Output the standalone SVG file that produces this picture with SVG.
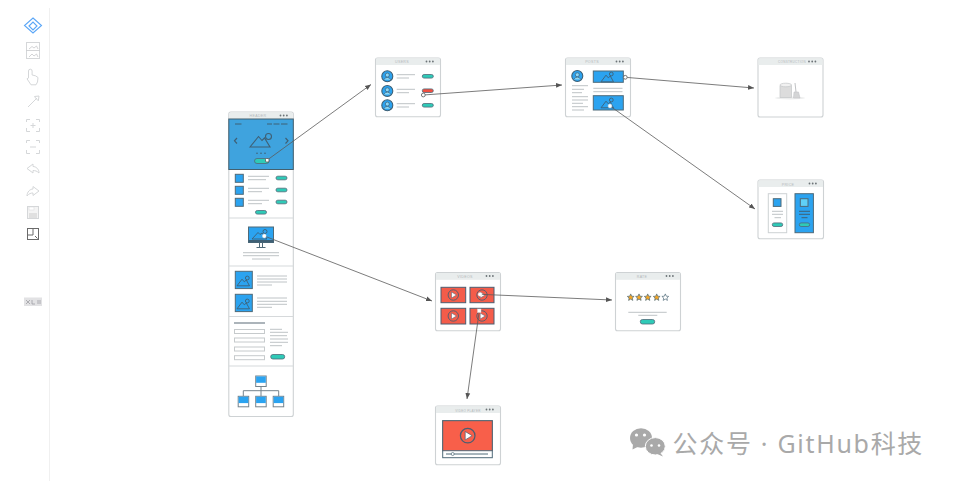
<svg xmlns="http://www.w3.org/2000/svg" xmlns:xlink="http://www.w3.org/1999/xlink" width="954" height="481" viewBox="0 0 954 481">
<style>
.win{fill:#fff;stroke:#ced2d4;stroke-width:1.100}
.bar{fill:#e9eded;stroke:none}
.ttl{font:3.600px "Liberation Sans",Arial,sans-serif;fill:#b4b8bb;text-anchor:middle;letter-spacing:.3px}
.dot{fill:#6c7377}
.div{stroke:#d6d9db;stroke-width:1.100;fill:none}
.ln{stroke:#bec3c6;stroke-width:1;fill:none}
.blue{fill:#2ba3f0;stroke:#4f6a78;stroke-width:1}
.red{fill:#f45c4a;stroke:#4d5d70;stroke-width:1}
.pill{fill:#2fcab7;stroke:#4f6a78;stroke-width:.8}
.rpill{fill:#f04f41;stroke:#4f6a78;stroke-width:.8}
.mt{fill:#2ba3f0;stroke:#3f6075;stroke-width:.9}
.tool{fill:none;stroke:#d5d7d9;stroke-width:1}
.conn{fill:none;stroke:#5a5a5a;stroke-width:.8;marker-end:url(#ah)}
.hd{fill:#fff;stroke:#555;stroke-width:.8}
.wm{font:25px "Noto Sans","Noto Sans CJK SC","Liberation Sans",sans-serif;fill:#a9a9a9;letter-spacing:1.700px}
</style>
<defs>
<marker id="ah" markerWidth="7" markerHeight="6" refX="6" refY="3" orient="auto" markerUnits="userSpaceOnUse"><path d="M0 0.600L6 3L0 5.400z" fill="#555"/></marker>
<g id="dots"><circle cx="0" cy="0" r=".9" class="dot"/><circle cx="3.200" cy="0" r=".9" class="dot"/><circle cx="6.400" cy="0" r=".9" class="dot"/></g>
<g id="pic"><circle cx="3.800" cy="-3" r="1.900" class="mt"/><path d="M-6.500 4.800L-1.500-1.800L.8 .8L2.800-1L6 4.800z" class="mt"/></g>
<g id="ava"><circle r="5.500" fill="#2ba3f0" stroke="#3f6075" stroke-width="1.100"/><circle cy="-1.200" r="2" fill="#8ad7f7" stroke="#3f6075" stroke-width=".7"/><path d="M-3.600 3.400Q0-1.200 3.600 3.400" fill="#8ad7f7" stroke="#3f6075" stroke-width=".7"/></g>
<g id="play"><circle r="5.200" fill="none" stroke="#4d5d70" stroke-width=".9"/><path d="M-1.800-3L3.200 0L-1.800 3z" fill="#fff" stroke="#4d5d70" stroke-width=".5"/></g>
<g id="box"><rect x="-5" y="-5" width="10.500" height="10.500" fill="#fff" stroke="#75838c" stroke-width="1"/><rect x="-4.600" y="-4.600" width="9.700" height="6.400" fill="#2ba3f0"/></g>
<path id="star" d="M0-3.400L1 -1.100L3.400-.9L1.600.7L2.100 3.100L0 1.800L-2.100 3.100L-1.600.7L-3.400-.9L-1-1.100z"/>
</defs>
<rect width="954" height="481" fill="#fff"/>

<g id="toolbar">
<path d="M49.500 8V481" stroke="#f0f0f0" fill="none"/>
<g id="tool-logo" fill="none" stroke="#5aa6f7" stroke-width="1.100"><path d="M33 18L41.500 25.500L33 33L24.500 25.500z"/><path d="M29 26L33 22L37 26L33 30z"/></g>
<g id="tool-pages" class="tool" stroke="#c6c8ca"><rect x="26.500" y="42.500" width="13" height="16"/><path d="M26.500 50.500H39.500M29 49L32 46.500L34 48L36.500 46L38 49M29 57L32 54L34 56L36.500 54L38 57" stroke="#c0c2c4" stroke-width=".7"/></g>
<g id="tool-hand" class="tool"><path d="M28.500 78V71a1.800 1.800 0 0 1 3.600 0V75l3.400.8 2.500 1.700-.5 4.500-1.500 2.800h-5l-4-6z"/></g>
<g id="tool-link" class="tool"><path d="M28 107L37 98"/><path d="M34.500 96.500L39 96L38.300 100.800L36.500 99L35.800 98.300z"/></g>
<g id="tool-zoomin" class="tool" stroke="#dcdedf"><path d="M26.500 122V119.500H30M36 119.500H39.500V122M39.500 128V131.500H36M30 131.500H26.500V128M33 123V128M30.500 125.500H35.500"/></g>
<g id="tool-zoomout" class="tool" stroke="#dcdedf"><path d="M26.500 143V140.500H30M36 140.500H39.500V143M39.500 150V153.500H36M30 153.500H26.500V150M30 147H36"/></g>
<g id="tool-undo" class="tool"><path d="M27 168.500L33 164V166.500C36 166.500 39 169 39 173C37 171 35 170.500 33 170.500V173z"/></g>
<g id="tool-redo" class="tool"><path d="M39 191L33 186.500V189C30 189 27 192 27 196C29 193.500 31 193 33 193V195.500z"/></g>
<g id="tool-save"><rect x="27.500" y="206.500" width="11" height="12" fill="#f4f4f4" stroke="#d5d7d9"/><rect x="29" y="213" width="8" height="5" fill="#e0e0e0"/><rect x="29" y="207" width="5" height="3" fill="#fff" stroke="#d5d7d9" stroke-width=".5"/></g>
<g id="tool-fit"><rect x="27.500" y="228.500" width="11" height="11" fill="#fff" stroke="#6a6a6a"/><path d="M27.500 235H33V228.500" fill="none" stroke="#6a6a6a"/><path d="M35 236L37.500 238.500" stroke="#6a6a6a"/></g>
<g id="tool-xml"><rect x="24" y="297.500" width="18" height="8.500" fill="#e2e2e4"/><path d="M26 300L30 304M30 300L26 304M32 300V304H35M38 300V304M40 300V304" stroke="#a0a0a3" stroke-width=".8" fill="none"/></g>
</g>

<g id="node-home">
<rect class="win" x="228.800" y="112" width="64.500" height="304.500" rx="2"/>
<path class="bar" d="M229.300 119V114a1.500 1.500 0 0 1 1.500-1.500H291.300a1.500 1.500 0 0 1 1.500 1.500V119z"/>
<text class="ttl" x="258" y="117.300">HEADER</text><use href="#dots" x="280.500" y="115.500"/>
<rect x="228.800" y="119" width="64.500" height="50.500" fill="#3fa3de" stroke="#44606f"/>
<path d="M235 124H241.500M267 124H272M273.500 124H279.500M281 124H287.500" stroke="#3f6075" fill="none"/>
<path d="M237 138L234.500 140.800L237 143.500M285.500 138L288 140.800L285.500 143.500" stroke="#3f6075" stroke-width="1.200" fill="none"/>
<circle cx="268.500" cy="136.500" r="3" fill="#3fa3de" stroke="#3f6075" stroke-width="1.100"/><path d="M250 147L258.500 136.500L262 140.500L264.500 138L270 147z" fill="#3fa3de" stroke="#3f6075" stroke-width="1.100"/>
<circle cx="257" cy="153.300" r=".8" fill="#3f6075"/><circle cx="261" cy="153.300" r=".8" fill="#3f6075"/><circle cx="265" cy="153.300" r=".8" fill="#3f6075"/>
<rect class="pill" x="254.500" y="158.500" width="14.500" height="5" rx="2.500"/>
<rect class="blue" x="235.300" y="174.300" width="8" height="8"/><rect class="blue" x="235.300" y="186.300" width="8" height="8"/><rect class="blue" x="235.300" y="198.300" width="8" height="8"/>
<path class="ln" d="M248 176.300H269M248 179.700H266M248 188.300H269M248 191.700H262M248 200.300H269M248 203.700H262"/>
<rect class="pill" x="276" y="176.200" width="11" height="3.600" rx="1.800"/><rect class="pill" x="276" y="188.200" width="11" height="3.600" rx="1.800"/><rect class="pill" x="276" y="200.200" width="11" height="3.600" rx="1.800"/><rect class="pill" x="255.500" y="210.500" width="11" height="3.600" rx="1.800"/>
<path class="div" d="M229 218H293"/>
<rect x="248.500" y="227" width="25" height="15.500" fill="#2ba3f0" stroke="#4f6a78"/><circle cx="265" cy="231.500" r="2" class="mt"/><path d="M252 239L258 232.500L260 234.500L262 233L267 239z" class="mt"/><rect x="248.500" y="240" width="25" height="2.500" fill="#3f6075"/><path d="M259.500 242.500V247M262.500 242.500V247M256.500 247.500H265.500" stroke="#4f6a78" fill="none"/>
<path class="ln" d="M243 252.700H279M243 255.700H279M252 259H270"/>
<path class="div" d="M229 266H293"/>
<rect class="blue" x="235.300" y="271.300" width="17" height="17.300"/><use href="#pic" x="243.500" y="281"/><rect class="blue" x="235.300" y="294.300" width="17" height="17.300"/><use href="#pic" x="243.500" y="304"/>
<path class="ln" d="M257 276H287M257 279H287M257 282H287M257 285H272M257 298H287M257 301.300H287M257 304.300H287M257 307.300H272"/>
<path class="div" d="M229 316.500H293"/>
<path d="M234 323H265" stroke="#75838c" stroke-width="1.200" fill="none"/>
<rect x="234.500" y="329.500" width="30" height="4" fill="#fff" stroke="#c6cacc"/><rect x="234.500" y="338" width="30" height="4" fill="#fff" stroke="#c6cacc"/><rect x="234.500" y="347" width="30" height="4" fill="#fff" stroke="#c6cacc"/><rect x="234.500" y="355.700" width="30" height="4" fill="#fff" stroke="#c6cacc"/>
<path class="ln" d="M270 329.300H282M270 332.300H288M270 335.700H287M270 339H288M270 342.300H288M270 345.700H282"/>
<rect class="pill" x="270.700" y="354.500" width="14" height="4.500" rx="2.200"/>
<path class="div" d="M229 366H293"/>
<path d="M261 386V396M243.300 396V390.700H278.700V396" fill="none" stroke="#75838c"/>
<use href="#box" x="260.700" y="381"/><use href="#box" x="243.200" y="401.300"/><use href="#box" x="260.700" y="401.300"/><use href="#box" x="278.200" y="401.300"/>
</g>

<g id="node-users">
<rect class="win" x="375.500" y="58" width="65" height="58.700" rx="2"/>
<rect class="bar" x="376" y="58.500" width="64" height="6.500"/>
<text class="ttl" x="402" y="63.300">USERS</text><use href="#dots" x="426.500" y="61.500"/>
<use href="#ava" x="387.300" y="76.300"/><use href="#ava" x="387.300" y="91"/><use href="#ava" x="387.300" y="105.300"/>
<path class="ln" d="M396.700 74.700H415M396.700 78H409M396.700 89.300H415M396.700 92.700H409M396.700 103.700H415M396.700 107H409"/>
<rect class="pill" x="422.300" y="74.500" width="11" height="3.600" rx="1.800"/><rect class="rpill" x="422.300" y="88.900" width="11" height="3.600" rx="1.800"/><rect class="pill" x="422.300" y="103.500" width="11" height="3.600" rx="1.800"/>
</g>

<g id="node-posts">
<rect class="win" x="565.500" y="58" width="65" height="58.700" rx="2"/>
<rect class="bar" x="566" y="58.500" width="64" height="6.500"/>
<text class="ttl" x="592" y="63.300">POSTS</text><use href="#dots" x="616.500" y="61.500"/>
<use href="#ava" x="577.300" y="76"/>
<rect class="blue" x="593.300" y="71" width="30" height="11.300"/><use href="#pic" x="607.500" y="77"/>
<rect class="blue" x="593.300" y="95.700" width="30" height="14.300"/><use href="#pic" x="607.500" y="103"/>
<path class="ln" d="M593.300 88.300H622.500M593.300 91.700H622.500M572 85.700H588M572 89.300H584M572 92.700H582M572 96.700H588M572 100H588M572 103.300H583M572 106.700H588M572 110H584"/>
</g>

<g id="node-empty">
<rect class="win" x="758" y="58" width="65" height="59" rx="2"/>
<rect class="bar" x="758.500" y="58.500" width="64" height="6.500"/>
<text class="ttl" x="792" y="63.300" style="font-size:3px">CONSTRUCTION</text><use href="#dots" x="809" y="61.500"/>
<ellipse cx="790" cy="98" rx="15" ry="1.500" fill="#eceded"/>
<path d="M780 85.500V97.500H791.500V85.500z" fill="#dcdcdc" stroke="#c3c5c7" stroke-width=".7"/><ellipse cx="785.800" cy="85" rx="5.800" ry="1.800" fill="#f1f1f1" stroke="#c3c5c7" stroke-width=".7"/>
<path d="M795 83L796 92" stroke="#c0c2c4" fill="none"/><path d="M794 92H798.500L800 98H793.500z" fill="#d4d5d6" stroke="#c3c5c7" stroke-width=".6"/>
</g>

<g id="node-price">
<rect class="win" x="758" y="180" width="65.500" height="58.700" rx="2"/>
<rect class="bar" x="758.500" y="180.500" width="64.500" height="6.500"/>
<text class="ttl" x="788" y="185.500">PRICE</text><use href="#dots" x="809.500" y="183.500"/>
<rect x="768.300" y="193.700" width="18.400" height="39" fill="#fff" stroke="#ced2d4"/>
<rect x="773.300" y="198.700" width="7.700" height="7.700" class="blue"/>
<path class="ln" d="M772 211.300H783M772 214.300H783M774.500 217.700H781"/>
<rect class="pill" x="772.300" y="222.900" width="10.400" height="3.600" rx="1.800"/>
<rect class="blue" x="795" y="193.700" width="18.400" height="39"/>
<rect x="800.300" y="198.700" width="7.700" height="7.700" fill="#5fd0f7" stroke="#4f6a78"/>
<path d="M799 211.300H810M799 214.300H810M801.500 217.700H807.500" stroke="#3f6075" fill="none"/>
<rect class="pill" x="799.300" y="222.900" width="10.400" height="3.600" rx="1.800"/>
</g>

<g id="node-videos">
<rect class="win" x="435.500" y="272.500" width="65" height="58.200" rx="2"/>
<rect class="bar" x="436" y="273" width="64" height="6.800"/>
<text class="ttl" x="465" y="278">VIDEOS</text><use href="#dots" x="486.500" y="276"/>
<rect class="red" x="441" y="287.300" width="24.700" height="15.400"/><use href="#play" x="453.300" y="295"/>
<rect class="red" x="470" y="287.300" width="24" height="15.400"/><use href="#play" x="482" y="295"/>
<rect class="red" x="441" y="308.300" width="24.700" height="15.700"/><use href="#play" x="453.300" y="316"/>
<rect class="red" x="470" y="308.300" width="24" height="15.700"/><use href="#play" x="482" y="316"/>
</g>

<g id="node-rate">
<rect class="win" x="615.500" y="272.500" width="65" height="58.200" rx="2"/>
<rect class="bar" x="616" y="273" width="64" height="6.800"/>
<text class="ttl" x="642" y="278">RATE</text><use href="#dots" x="666.500" y="276"/>
<g stroke="#4f6a78" stroke-width=".7"><use href="#star" x="630.700" y="297.300" fill="#f5a623"/><use href="#star" x="639" y="297.300" fill="#f5a623"/><use href="#star" x="647.700" y="297.300" fill="#f5a623"/><use href="#star" x="656.700" y="297.300" fill="#f5a623"/><use href="#star" x="665.300" y="297.300" fill="#fff"/></g>
<path class="ln" d="M628.300 312.300H666.700M638.300 315.300H657.300"/>
<rect class="pill" x="640.300" y="319.500" width="14.400" height="4.500" rx="2.200"/>
</g>

<g id="node-player">
<rect class="win" x="435.500" y="406" width="65" height="58.700" rx="2"/>
<rect class="bar" x="436" y="406.500" width="64" height="6.500"/>
<text class="ttl" x="468" y="411.500" style="font-size:3px">VIDEO PLAYER</text><use href="#dots" x="486.500" y="409.500"/>
<rect x="442.700" y="420.700" width="49.600" height="37" fill="#fff" stroke="#4f6a78"/>
<rect x="442.700" y="420.700" width="49.600" height="30" fill="#f85f4a" stroke="#4f6a78"/>
<g transform="translate(467.700 435.700) scale(1.400)"><use href="#play"/></g>
<path d="M446 454H488" stroke="#4f6a78" fill="none"/><circle cx="452.700" cy="454" r="1.500" fill="#fff" stroke="#4f6a78" stroke-width=".7"/>
</g>

<g id="connectors">
<path class="conn" d="M267.300 160L371 84.500"/>
<path class="conn" d="M423.300 95L562 85"/>
<path class="conn" d="M625.300 77.300L754 88"/>
<path class="conn" d="M610 106L755 209"/>
<path class="conn" d="M264.300 236L432 301"/>
<path class="conn" d="M480 294.300L612 300"/>
<path class="conn" d="M479.300 310.700L467 399"/>
<rect class="hd" x="265.500" y="158.500" width="3.500" height="3.500" rx="1"/>
<circle class="hd" cx="423.300" cy="95" r="1.900"/>
<circle class="hd" cx="625.300" cy="77.300" r="1.900"/>
<circle cx="610" cy="106" r="1.900" fill="#fff" stroke="#ddd" stroke-width=".4"/>
<circle cx="264.300" cy="236" r="1.900" fill="#fff" stroke="#ddd" stroke-width=".4"/>
<circle cx="480" cy="294.300" r="1.900" fill="#fff" stroke="#ddd" stroke-width=".4"/>
<rect x="477.500" y="309" width="3.500" height="3.500" fill="#fff" stroke="#ddd" stroke-width=".4"/>
</g>

<g id="watermark">
<ellipse cx="641" cy="438" rx="11" ry="9.800" fill="#a9a9a9"/><path d="M633 444L632.500 449.500L638.500 446.500z" fill="#a9a9a9"/>
<ellipse cx="655.300" cy="446.300" rx="10" ry="8.700" fill="#a9a9a9" stroke="#fff" stroke-width="1"/><path d="M660 452.500L663 456.500L656 453.500z" fill="#a9a9a9"/>
<circle cx="636.500" cy="435" r="1.600" fill="#fff"/><circle cx="644.500" cy="435" r="1.600" fill="#fff"/><circle cx="651.500" cy="445.500" r="1.300" fill="#fff"/><circle cx="659" cy="445.500" r="1.300" fill="#fff"/>
<text class="wm" x="672.500" y="452.500">公众号 · GitHub科技</text>
</g>
</svg>
